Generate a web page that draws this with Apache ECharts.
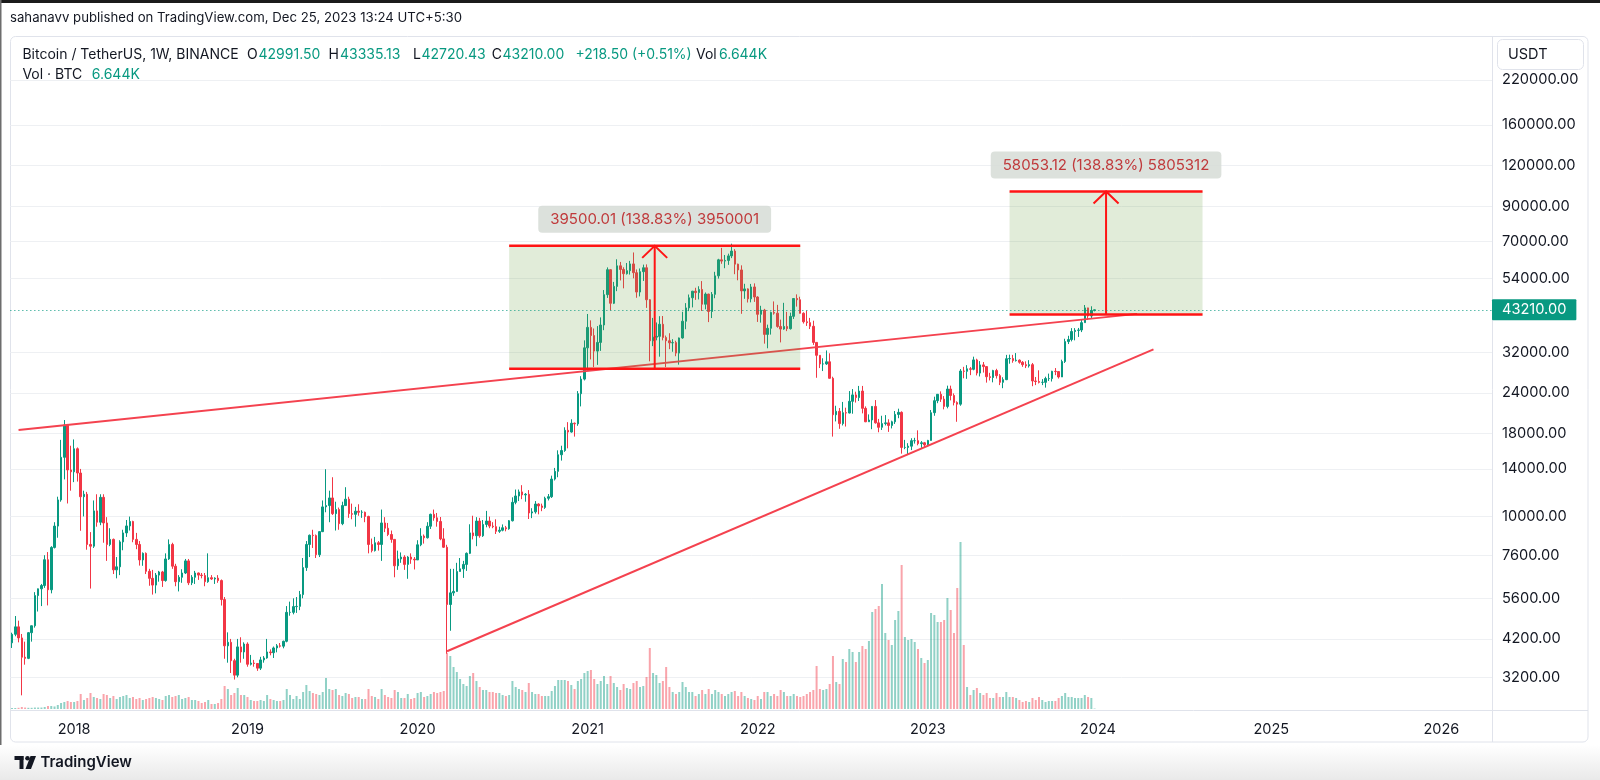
<!DOCTYPE html>
<html><head><meta charset="utf-8">
<script src="https://cdn.jsdelivr.net/npm/echarts@6/dist/echarts.min.js"></script>
<style>html,body{margin:0;padding:0;background:#fff;overflow:hidden}#c{width:1600px;height:780px}</style>
</head><body><div id="c"></div>
<script>
// ---------------- data (weekly BTCUSDT, Binance) ----------------
const startWeek = [2017, 7, 21];          // first visible weekly bar: 2017-08-21
const totalWeeks = 453;                    // weekly slots on the time axis (incl. future space)
const firstOpen = 4086;
const highs = [
4390,4940,4780,4350,4120,4410,4620,5850,6000,6200,7600,7770,8100,9600,11500,17200,19798,19250,16500,
17252,16300,14000,12000,11900,8950,11200,11700,11700,11700,9950,9200,8550,7500,8450,9100,9750,9990,9700,8900,
8400,7750,7750,6900,6850,6700,6800,6800,7700,8500,8300,7150,6600,6880,7400,7400,6600,6800,6720,6700,
6700,7700,6600,6500,6600,6400,5650,4400,4200,3650,4200,4250,
4100,4100,3750,3620,3530,3700,3720,4200,3900,3980,4050,4080,4150,5300,5470,5600,5650,5900,7450,8400,
8800,9100,8800,9000,11200,13970,12000,13200,11100,10650,11100,12300,11500,10950,10700,10900,10450,10350,10050,8550,
8650,8400,10500,9950,9550,9050,8500,7850,7750,7600,7550,7700,7500,
8450,9200,8800,9600,10200,10500,10250,9960,9200,8180,6900,6900,7200,7450,7300,7750,9460,10050,9950,9900,
9750,10400,9990,9600,9800,9300,9450,9350,9750,11450,12100,12100,12480,11800,12050,10600,11150,10980,10950,11500,
11720,13350,14100,15970,16500,18800,19500,19900,19450,24300,27000,34800,
41950,40100,37850,38500,40950,49700,58350,57550,52650,61800,60650,58400,60200,61100,64850,57500,57900,59500,59600,46600,
40800,39500,41300,41350,36000,36600,35100,34700,35500,42600,45300,48150,49400,50500,51050,52950,48850,48400,49000,56550,
62000,67000,63700,64300,69000,66400,59900,59200,51950,50300,51900,52100,
47550,44450,43500,38900,42650,45850,44750,40300,45400,42600,42350,46900,48200,47400,42450,42950,40800,40000,34300,31350,
30650,32400,31750,26900,21900,21550,22500,21600,24300,24650,24200,25200,25200,21800,20600,21850,22800,19950,20400,20500,
19900,19700,21100,21450,21050,17200,16800,17400,17450,18400,17050,16950,
17200,21250,23350,23800,24250,23450,25250,25250,23900,22600,28400,28850,29200,28800,31000,30550,30050,29850,28900,27650,
28250,28450,27400,26800,31400,31450,31400,31800,30400,30050,30000,30250,29650,26850,28150,26450,26900,27500,28050,28600,
27950,30350,35200,35950,37950,37950,38000,40250,44700,43850,44300,43335.13
];
const lows = [
3940,4280,4100,2817,3500,3640,4120,4550,5100,5300,6030,5325,5800,7970,8600,11100,13000,10961,12000,
12750,12800,9035,10000,7900,6000,8000,9300,9400,8300,7300,8100,6650,6450,6600,7870,8650,9050,8330,7930,
7060,7050,6650,6120,5750,5800,6300,6070,6300,7350,6900,6100,5880,6250,6650,6150,6150,6200,6380,6450,
6100,6250,6380,6200,6250,5320,3650,3550,3300,3150,3200,3550,
3650,3450,3480,3450,3350,3370,3550,3650,3740,3670,3820,3950,3930,4100,4950,5000,5050,5150,5600,6800,
7500,8000,7450,7500,8950,10300,9600,10100,9050,9100,9400,10800,9900,9800,9300,10050,9900,9600,7700,7750,
7800,7850,7300,8950,8700,8300,6500,6850,7200,6850,6430,7150,6870,
7350,8100,8250,8550,9150,9700,9300,8450,8000,3782,4450,5700,5870,6770,6470,6800,7660,8500,8100,8600,
8650,9260,9200,9200,8830,8900,9000,9000,9100,9650,10900,11150,11300,11100,9820,9880,10200,10150,10380,10550,
11200,11400,12900,13200,14850,15800,16200,18100,17600,19000,21800,26200,
28100,30400,28800,29250,32300,37400,47000,43000,45000,49300,53200,50300,55450,55450,54000,47050,47500,53000,43800,30000,
33400,34800,31000,34800,28800,32700,32100,31100,29300,35200,37650,42800,43950,46350,46500,42850,43350,39600,40750,46900,
53900,59850,58000,59400,62300,55600,53250,42000,46700,45500,45550,45700,
39650,39450,34000,32900,36250,41750,38050,34300,37500,37150,37550,40500,44200,42100,39200,38550,37700,33700,26700,28600,
28000,29250,26550,17600,19600,18600,19050,18900,20750,20700,22400,22650,20750,19500,19550,18550,19300,18150,18450,19050,
18200,18650,19250,20050,15600,16100,15500,16000,16750,16550,16250,16350,
16550,17100,20400,22300,22500,21350,21500,22750,21950,19550,21900,26600,26500,27200,28150,27150,26950,27700,25800,26200,
25850,26550,25350,24800,26250,29500,29700,29950,29500,28850,28600,28700,25150,25350,25650,25350,24900,26100,26000,27200,
26550,26850,29650,33900,34550,34800,35650,36900,39450,40200,40550,42720.43
];
const closes = [
4340,4575,4230,3690,3660,4390,4610,5710,5990,6130,7360,5950,8030,9340,11240,15200,19100,13900,13716,
16150,13600,11500,11700,8200,8100,10400,9600,11450,9550,8200,8500,6850,7000,8350,8900,9350,9650,8500,8200,
7350,7700,6780,6450,6150,6600,6750,6350,7400,8200,7030,6300,6500,6700,7300,6250,6500,6700,6600,6580,
6300,6480,6420,6460,6350,5550,4000,4100,3600,3250,3970,3830,
4050,3510,3540,3530,3415,3620,3670,3830,3810,3940,4000,3990,4130,5070,5070,5280,5290,5750,6960,8200,
8750,8730,7630,8980,10700,10800,11400,10200,10500,9500,10800,11300,10200,10150,10380,10300,10300,10000,8200,7850,
8300,8200,9550,9200,8800,8500,7050,7400,7500,7120,7500,7390,7350,
8180,8700,8600,9330,10150,9900,9650,8530,8040,5360,5820,5880,6770,6900,7120,7700,8900,8720,9680,8720,
9450,9680,9340,9300,9000,9070,9230,9160,9700,11050,11560,11900,11650,11700,10250,10330,10920,10770,10660,11370,
11500,13030,13760,15480,15950,18400,18180,19350,19270,23850,26450,33000,
38150,36000,32250,34300,38800,48100,57400,45250,51000,59000,57500,55800,57000,59800,56200,49000,56600,58200,46400,34700,
35600,35800,39000,35500,34700,34200,34250,31800,35400,39850,43800,47050,49300,48800,49900,44950,48300,42700,48200,54950,
61550,61000,61300,63300,65500,59700,57300,49400,50100,46700,50800,47300,
41850,43100,36300,37900,42400,42200,38400,37700,38400,37800,41250,46800,46400,42150,39700,39450,38450,34300,31300,29450,
29450,29900,26600,20550,21050,19300,20850,20800,22600,23650,23200,24300,21500,19550,19800,21800,19400,18800,19300,19400,
19050,19550,20600,20900,16300,16300,16450,17100,17100,16750,16850,16600,
17130,20850,22700,23750,22950,21800,24650,23550,22400,22150,28000,27950,28450,28350,30300,27600,29250,28900,26900,26750,
28100,27100,25850,26350,30550,30600,30150,30250,29800,29300,29050,29300,26100,26000,25850,25850,26550,26550,27950,27900,
26850,29950,34500,35000,37050,37350,37450,39450,43800,41350,42991.5,43210
];
// weekly volume, thousands of BTC
const volumesK = [
15,15,18,30,22,18,18,22,22,22,30,45,45,38,60,90,105,120,105,
105,120,225,135,165,240,180,165,150,225,210,165,195,150,180,195,210,165,180,150,
165,135,150,165,180,165,150,135,195,210,180,195,210,150,165,180,135,135,120,90,
105,135,75,75,90,150,345,300,210,240,315,210,
210,180,135,120,120,135,120,210,150,135,120,120,135,300,210,150,195,150,255,360,
270,240,225,210,255,465,300,285,300,210,195,240,225,165,180,180,150,150,300,195,
180,150,300,210,180,165,285,255,165,165,225,150,165,
240,255,180,195,225,255,240,255,270,840,795,630,555,450,375,345,495,540,420,330,
285,285,255,255,240,240,210,195,210,420,330,300,285,255,390,255,225,225,195,195,
195,270,345,435,435,435,420,360,300,420,450,540,
570,585,450,375,420,495,375,495,390,330,285,375,315,300,390,420,330,345,480,915,
540,510,390,420,630,330,255,225,255,405,330,255,255,195,225,285,225,300,225,285,
255,225,195,225,255,270,195,255,195,165,150,135,
195,150,255,255,195,225,195,285,255,195,195,225,195,180,195,225,255,285,645,300,
285,300,375,795,405,375,750,705,900,855,705,855,945,900,1020,1455,1500,1545,1875,1140,
1035,960,1335,1470,2160,1080,1035,1050,1005,900,765,690,
735,1440,1410,1305,1305,1335,1665,1485,1140,1815,2505,960,330,210,285,315,240,210,240,165,
165,240,180,180,255,180,180,165,135,105,120,105,165,135,180,135,105,120,120,120,
165,195,240,180,180,165,165,165,210,180,165,6.644
];
const priceTicks = [220000,160000,120000,90000,70000,54000,32000,24000,18000,14000,10000,7600,5600,4200,3200];
// drawings
const upperTrend = [['2017-09-04', 18440], ['2024-03-25', 41980]];
const lowerTrend = [['2020-03-09', 3850], ['2024-04-29', 32640]];
const rangeFrom = ['2020-07-20', '2023-06-26'];
const rangeTo   = ['2022-04-04', '2024-08-12'];
const rangeLow  = [28452.5, 41816];
const rangeHigh = [67952.51, 99869.12];
const headerTitle = 'sahanavv published on TradingView.com, Dec 25, 2023 13:24 UTC+5:30';
const symbolTitle = 'Bitcoin / TetherUS, 1W, BINANCE';

// ---------------- build ----------------
const FONT = 'Inter, "Noto Sans", sans-serif';
const UP = '#089981', DOWN = '#f23645';
const UPV = 'rgba(8,153,129,0.45)', DOWNV = 'rgba(242,54,69,0.45)';
const RANGE_RED = '#ff1414';

const cats = [];
for (let i = 0; i < totalWeeks; i++) {
  const d = new Date(Date.UTC(startWeek[0], startWeek[1], startWeek[2]) + i * 7 * 86400000);
  cats.push(d.toISOString().slice(0, 10));
}
const candles = [], vols = [];
for (let i = 0; i < closes.length; i++) {
  const o = i === 0 ? firstOpen : closes[i - 1];
  candles.push([o, closes[i], lows[i], highs[i]]);
  vols.push({ value: volumesK[i], itemStyle: { color: closes[i] >= o ? UPV : DOWNV } });
}
const n = closes.length;
const lastO = candles[n - 1][0], lastC = closes[n - 1];
const chg = lastC - lastO;
const rangeData = rangeFrom.map((f, i) => [cats.indexOf(f), cats.indexOf(rangeTo[i]), rangeLow[i], rangeHigh[i]]);

function renderRange(params, api) {
  const lo = api.value(2), hi = api.value(3);
  const pA = api.coord([api.value(0), hi]);
  const pB = api.coord([api.value(1), lo]);
  const x1 = pA[0], x2 = pB[0], yT = pA[1], yB = pB[1];
  const mx = (x1 + x2) / 2;
  const diff = hi - lo;
  const txt = diff.toFixed(2) + ' (' + (diff / lo * 100).toFixed(2) + '%) ' + Math.round(diff * 100);
  return { type: 'group', children: [
    { type: 'rect', shape: { x: x1, y: yT, width: x2 - x1, height: yB - yT }, style: { fill: 'rgba(104,162,64,0.2)' } },
    { type: 'line', shape: { x1: x1, y1: yT, x2: x2, y2: yT }, style: { stroke: RANGE_RED, lineWidth: 2.5 } },
    { type: 'line', shape: { x1: x1, y1: yB, x2: x2, y2: yB }, style: { stroke: RANGE_RED, lineWidth: 2.5 } },
    { type: 'line', shape: { x1: mx, y1: yB, x2: mx, y2: yT }, style: { stroke: RANGE_RED, lineWidth: 2 } },
    { type: 'polyline', shape: { points: [[mx - 12.5, yT + 12], [mx, yT], [mx + 12.5, yT + 12]] }, style: { stroke: RANGE_RED, lineWidth: 2, fill: null } },
    { type: 'text', x: mx, y: yT - 26.5, style: { text: txt, fill: '#c0393b', font: '15px ' + FONT, align: 'center', verticalAlign: 'middle',
      backgroundColor: 'rgba(214,220,214,0.85)', padding: [6, 12], borderRadius: 4 } }
  ]};
}

function txt(x, y, s, color, size, weight) {
  return { type: 'text', x: x, y: y, silent: true,
    style: { text: s, fill: color, font: (weight || 'normal') + ' ' + size + 'px ' + FONT, verticalAlign: 'middle', align: 'left' } };
}

const HS = 14;
const graphics = [
  { type: 'rect', shape: { x: 0, y: 745, width: 1600, height: 35 }, silent: true,
    style: { fill: { type: 'linear', x: 0, y: 0, x2: 0, y2: 1, colorStops: [{ offset: 0, color: '#ffffff' }, { offset: 1, color: '#e9e9e9' }] } } },
  { type: 'rect', shape: { x: 0, y: 0, width: 1600, height: 3 }, style: { fill: '#1b1b1b' }, silent: true },
  { type: 'rect', shape: { x: 0, y: 0, width: 1.5, height: 745 }, style: { fill: '#6d6d6d' }, silent: true },
  { type: 'rect', shape: { x: 10.5, y: 36.5, width: 1577.5, height: 705.5, r: 5 }, style: { fill: null, stroke: '#e0e3eb', lineWidth: 1 }, silent: true },
  { type: 'line', shape: { x1: 10.5, y1: 710.5, x2: 1588, y2: 710.5 }, style: { stroke: '#e0e3eb', lineWidth: 1 }, silent: true },
  { type: 'line', shape: { x1: 1492.5, y1: 36.5, x2: 1492.5, y2: 742 }, style: { stroke: '#e0e3eb', lineWidth: 1 }, silent: true },
  { type: 'rect', shape: { x: 1497.5, y: 39.5, width: 86, height: 30, r: 5 }, style: { fill: '#fff', stroke: '#e0e3eb', lineWidth: 1 }, silent: true },
  txt(1508, 55, 'USDT', '#131722', 14.5),
  txt(10, 18.5, headerTitle, '#131722', 13.2),
  txt(22.4, 54.5, symbolTitle, '#131722', HS),
  txt(247, 54.5, 'O', '#131722', HS), txt(258.5, 54.5, lastO.toFixed(2), UP, HS),
  txt(328.6, 54.5, 'H', '#131722', HS), txt(340, 54.5, highs[n - 1].toFixed(2), UP, HS),
  txt(413, 54.5, 'L', '#131722', HS), txt(421.5, 54.5, lows[n - 1].toFixed(2), UP, HS),
  txt(491.8, 54.5, 'C', '#131722', HS), txt(502.5, 54.5, lastC.toFixed(2), UP, HS),
  txt(575.5, 54.5, (chg >= 0 ? '+' : '') + chg.toFixed(2) + ' (' + (chg >= 0 ? '+' : '') + (chg / lastO * 100).toFixed(2) + '%)', UP, HS),
  txt(696, 54.5, 'Vol', '#131722', HS), txt(719, 54.5, volumesK[n - 1].toFixed(3) + 'K', UP, HS),
  txt(22.4, 75, 'Vol · BTC', '#131722', HS), txt(91.8, 75, volumesK[n - 1].toFixed(3) + 'K', UP, HS),
  // TradingView logo
  { type: 'rect', shape: { x: 14.5, y: 756, width: 9, height: 4 }, style: { fill: '#131722' }, silent: true },
  { type: 'rect', shape: { x: 19.5, y: 756, width: 4, height: 13 }, style: { fill: '#131722' }, silent: true },
  { type: 'circle', shape: { cx: 27.5, cy: 758.3, r: 2.3 }, style: { fill: '#131722' }, silent: true },
  { type: 'polygon', shape: { points: [[30.5, 756], [36, 756], [31, 769], [25.5, 769]] }, style: { fill: '#131722' }, silent: true },
  txt(40.5, 762.5, 'TradingView', '#131722', 15, '600')
];

const chart = echarts.init(document.getElementById('c'), null, { renderer: 'canvas' });
chart.setOption({
  animation: false,
  backgroundColor: 'transparent',
  grid: [
    { left: 10.37, right: 108, top: 36, bottom: 70 },
    { left: 10.37, right: 108, bottom: 71, height: 200 }
  ],
  xAxis: [
    { type: 'category', gridIndex: 0, data: cats, boundaryGap: true,
      axisLine: { show: false }, axisTick: { show: false }, splitLine: { show: false },
      axisLabel: { interval: (i, v) => i > 0 && v.slice(0, 4) !== cats[i - 1].slice(0, 4),
        formatter: v => v.slice(0, 4), color: '#131722', fontSize: 14.5, fontFamily: FONT, margin: 12 } },
    { type: 'category', gridIndex: 1, data: cats, boundaryGap: true, show: false }
  ],
  yAxis: [
    { type: 'log', gridIndex: 0, position: 'right', min: 2539, max: 300400,
      axisLine: { show: false }, axisTick: { show: false, customValues: priceTicks },
      axisLabel: { customValues: priceTicks, formatter: v => Number(v).toFixed(2), color: '#131722', fontSize: 14.6, fontFamily: FONT, margin: 10 },
      splitLine: { show: true, lineStyle: { color: '#eef0f3', width: 1 } } },
    { type: 'value', gridIndex: 1, min: 0, max: 3000, show: false, splitLine: { show: false } }
  ],
  graphic: graphics,
  series: [
    { type: 'bar', name: 'Vol', xAxisIndex: 1, yAxisIndex: 1, data: vols, barWidth: 2, z: 1, silent: true },
    { type: 'candlestick', name: 'BTCUSDT', xAxisIndex: 0, yAxisIndex: 0, data: candles, barWidth: 2, z: 2, silent: true,
      itemStyle: { color: UP, color0: DOWN, borderColor: UP, borderColor0: DOWN, borderWidth: 1 },
      markLine: { silent: true, symbol: 'none', animation: false,
        lineStyle: { color: UP, type: [1, 3], width: 1 },
        label: { show: true, position: 'end', formatter: lastC.toFixed(2), backgroundColor: UP, color: '#fff',
          padding: [3, 10, 3, 10], fontSize: 14.6, fontFamily: FONT, distance: 0, borderRadius: 1 },
        data: [{ yAxis: lastC }] } },
    { type: 'line', xAxisIndex: 0, yAxisIndex: 0, data: upperTrend, symbol: 'none', silent: true, z: 3,
      lineStyle: { color: '#f4424f', width: 2 } },
    { type: 'line', xAxisIndex: 0, yAxisIndex: 0, data: lowerTrend, symbol: 'none', silent: true, z: 3,
      lineStyle: { color: '#f4424f', width: 2 } },
    { type: 'custom', xAxisIndex: 0, yAxisIndex: 0, data: rangeData, renderItem: renderRange, z: 4, silent: true, clip: false,
      encode: { x: [0, 1], y: [2, 3] } }
  ]
});
</script></body></html>
